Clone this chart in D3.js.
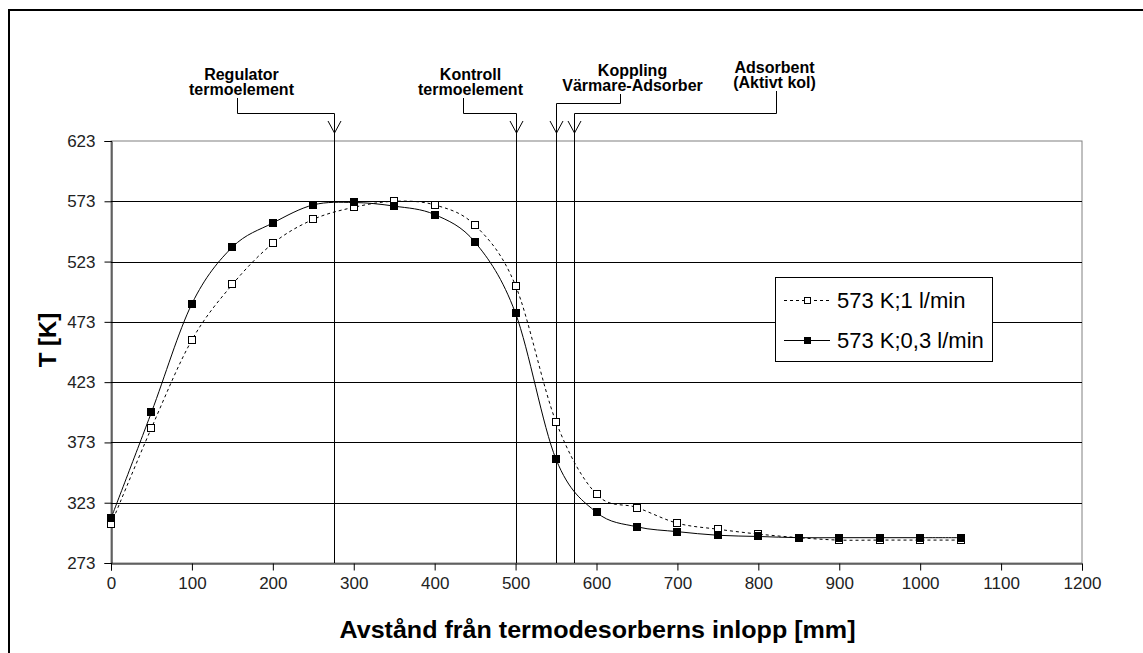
<!DOCTYPE html>
<html>
<head>
<meta charset="utf-8">
<script src="https://cdn.jsdelivr.net/npm/d3@7"></script>
<style>
  html, body { margin: 0; padding: 0; background: #fff; }
  svg { display: block; }
</style>
</head>
<body>
<svg id="chart" width="1143" height="653"></svg>
<script>
// Distance along the thermodesorber (mm)
const positions = [0, 50, 100, 150, 200, 250, 300, 350, 400, 450, 500,
                   550, 600, 650, 700, 750, 800, 850, 900, 950, 1000, 1050];
// Temperature profiles (K)
const flow1 = [305, 385, 458, 504, 538, 558, 568, 573, 570, 553, 503,
               390, 330, 319, 306, 301, 297, 294, 292, 292, 292, 292];
const flow03 = [310, 398, 488, 535, 555, 570, 572, 569, 562, 539, 480,
                359, 315, 303, 299, 296, 295, 294, 294, 294, 294, 294];
const seriesNames = ["573 K;1 l/min", "573 K;0,3 l/min"];

const xTicks = [0, 100, 200, 300, 400, 500, 600, 700, 800, 900, 1000, 1100, 1200];
const yTicks = [273, 323, 373, 423, 473, 523, 573, 623];

// Marked locations along the tube
const markerPos = [275, 500, 550, 572];
const markerLabels = [
  ["Regulator", "termoelement"],
  ["Kontroll", "termoelement"],
  ["Koppling", "Värmare-Adsorber"],
  ["Adsorbent", "(Aktivt kol)"]
];

const xTitle = "Avstånd från termodesorberns inlopp [mm]";
const yTitle = "T [K]";

// ---- layout ----
const plot = { left: 111, right: 1082, top: 141, bottom: 563 };
// label placement for each marker: text centre offset from marker, leader offset from text centre,
// first baseline, elbow height
const labelLayout = [
  { dx: -93, lead: -5, base: 80, elbow: 113 },
  { dx: -46, lead: -8, base: 80, elbow: 113 },
  { dx: 76, lead: -13, base: 76, elbow: 103 },
  { dx: 200, lead: 1, base: 73, elbow: 113 }
];

const svg = d3.select("#chart");

// outer frame
svg.append("rect")
  .attr("x", 9).attr("y", 10)
  .attr("width", 1200).attr("height", 700)
  .attr("fill", "none").attr("stroke", "#000").attr("stroke-width", 2);

const x = d3.scaleLinear().domain([0, 1200]).range([plot.left, plot.right]);
const y = d3.scaleLinear().domain([273, 623]).range([plot.bottom, plot.top]);

// plot area border (top / right in grey)
svg.append("rect")
  .attr("x", plot.left).attr("y", plot.top)
  .attr("width", plot.right - plot.left).attr("height", plot.bottom - plot.top)
  .attr("fill", "#fff").attr("stroke", "#808080").attr("stroke-width", 1);

// horizontal gridlines
svg.append("g")
  .selectAll("line")
  .data(yTicks.filter(v => v !== 273 && v !== 623))
  .join("line")
  .attr("x1", plot.left).attr("x2", plot.right)
  .attr("y1", d => Math.round(y(d)) + 0.5).attr("y2", d => Math.round(y(d)) + 0.5)
  .attr("stroke", "#000").attr("stroke-width", 1);

// axes
const xAxis = svg.append("g")
  .attr("transform", `translate(0,${plot.bottom + 0.5})`)
  .call(d3.axisBottom(x).tickValues(xTicks).tickSize(7).tickPadding(6).tickFormat(d3.format("d")));
const yAxis = svg.append("g")
  .attr("transform", `translate(${plot.left + 0.5},0)`)
  .call(d3.axisLeft(y).tickValues(yTicks).tickSize(7).tickPadding(9).tickFormat(d3.format("d")));

[xAxis, yAxis].forEach(g => {
  g.select(".domain").attr("stroke", "#000");
  g.selectAll(".tick line").attr("stroke", "#000");
  g.selectAll(".tick text")
    .attr("fill", "#222")
    .style("font-family", "'Liberation Sans', Arial, sans-serif")
    .style("font-size", "17px");
});

// marker lines with labelled arrows
const labelFont = "'Liberation Sans Narrow', 'Arial Narrow', 'Liberation Sans', Arial, sans-serif";
const tipY = 133;
markerPos.forEach((mx, i) => {
  const px = Math.round(x(mx)) + 0.5;
  const L = labelLayout[i];
  const cx = px + L.dx;
  const g = svg.append("g");

  const t = g.append("text")
    .attr("x", cx).attr("y", L.base)
    .attr("text-anchor", "middle")
    .style("font-family", labelFont)
    .style("font-weight", "bold")
    .style("font-size", "16px")
    .attr("fill", "#000");
  markerLabels[i].forEach((s, k) => {
    t.append("tspan").attr("x", cx).attr("dy", k === 0 ? 0 : 15).text(s);
  });

  const lx = Math.round(cx + L.lead) + 0.5;
  const startY = L.base + 15 + 3;
  g.append("path")
    .attr("d", `M${lx},${startY}V${L.elbow + 0.5}H${px}V${plot.bottom}`)
    .attr("fill", "none").attr("stroke", "#000").attr("stroke-width", 1);
  g.append("path")
    .attr("d", `M${px - 6.5},${tipY - 12}L${px},${tipY}L${px + 6.5},${tipY - 12}`)
    .attr("fill", "none").attr("stroke", "#000").attr("stroke-width", 1);
});

// data series
const curve = d3.line()
  .x((d, i) => x(positions[i]))
  .y(d => y(d))
  .curve(d3.curveCatmullRom.alpha(0));

const series = [
  { values: flow1, dash: "3,3", fill: "#fff" },
  { values: flow03, dash: null, fill: "#000" }
];

series.forEach(s => {
  svg.append("path")
    .attr("d", curve(s.values))
    .attr("fill", "none").attr("stroke", "#000").attr("stroke-width", 1)
    .attr("stroke-dasharray", s.dash);
});
series.forEach(s => {
  svg.append("g")
    .selectAll("rect")
    .data(s.values)
    .join("rect")
    .attr("x", (d, i) => Math.round(x(positions[i])) - 3.5)
    .attr("y", d => Math.round(y(d)) - 3.5)
    .attr("width", 7).attr("height", 7)
    .attr("fill", s.fill).attr("stroke", "#000").attr("stroke-width", 1);
});

// legend
const lg = svg.append("g");
lg.append("rect")
  .attr("x", 775.5).attr("y", 277.5).attr("width", 217).attr("height", 84)
  .attr("fill", "#fff").attr("stroke", "#000").attr("stroke-width", 1);
const rowsY = [300.5, 340.5];
series.forEach((s, i) => {
  lg.append("line")
    .attr("x1", 784).attr("x2", 830).attr("y1", rowsY[i]).attr("y2", rowsY[i])
    .attr("stroke", "#000").attr("stroke-dasharray", s.dash);
  lg.append("rect")
    .attr("x", 804.5).attr("y", rowsY[i] - 3).attr("width", 6).attr("height", 6)
    .attr("fill", s.fill).attr("stroke", "#000");
  lg.append("text")
    .attr("x", 837).attr("y", rowsY[i] + 7.5)
    .style("font-family", "'Liberation Sans', Arial, sans-serif")
    .style("font-size", "22px")
    .attr("fill", "#000")
    .text(seriesNames[i]);
});

// axis titles
svg.append("text")
  .attr("x", (plot.left + plot.right) / 2 + 1).attr("y", 638)
  .attr("text-anchor", "middle")
  .attr("textLength", 516).attr("lengthAdjust", "spacingAndGlyphs")
  .style("font-family", "'Liberation Sans', Arial, sans-serif")
  .style("font-weight", "bold").style("font-size", "24px")
  .text(xTitle);
svg.append("text")
  .attr("transform", `translate(56,${(plot.top + plot.bottom) / 2 - 12}) rotate(-90)`)
  .attr("text-anchor", "middle")
  .style("font-family", "'Liberation Sans', Arial, sans-serif")
  .style("font-weight", "bold").style("font-size", "24px")
  .text(yTitle);
</script>
</body>
</html>
